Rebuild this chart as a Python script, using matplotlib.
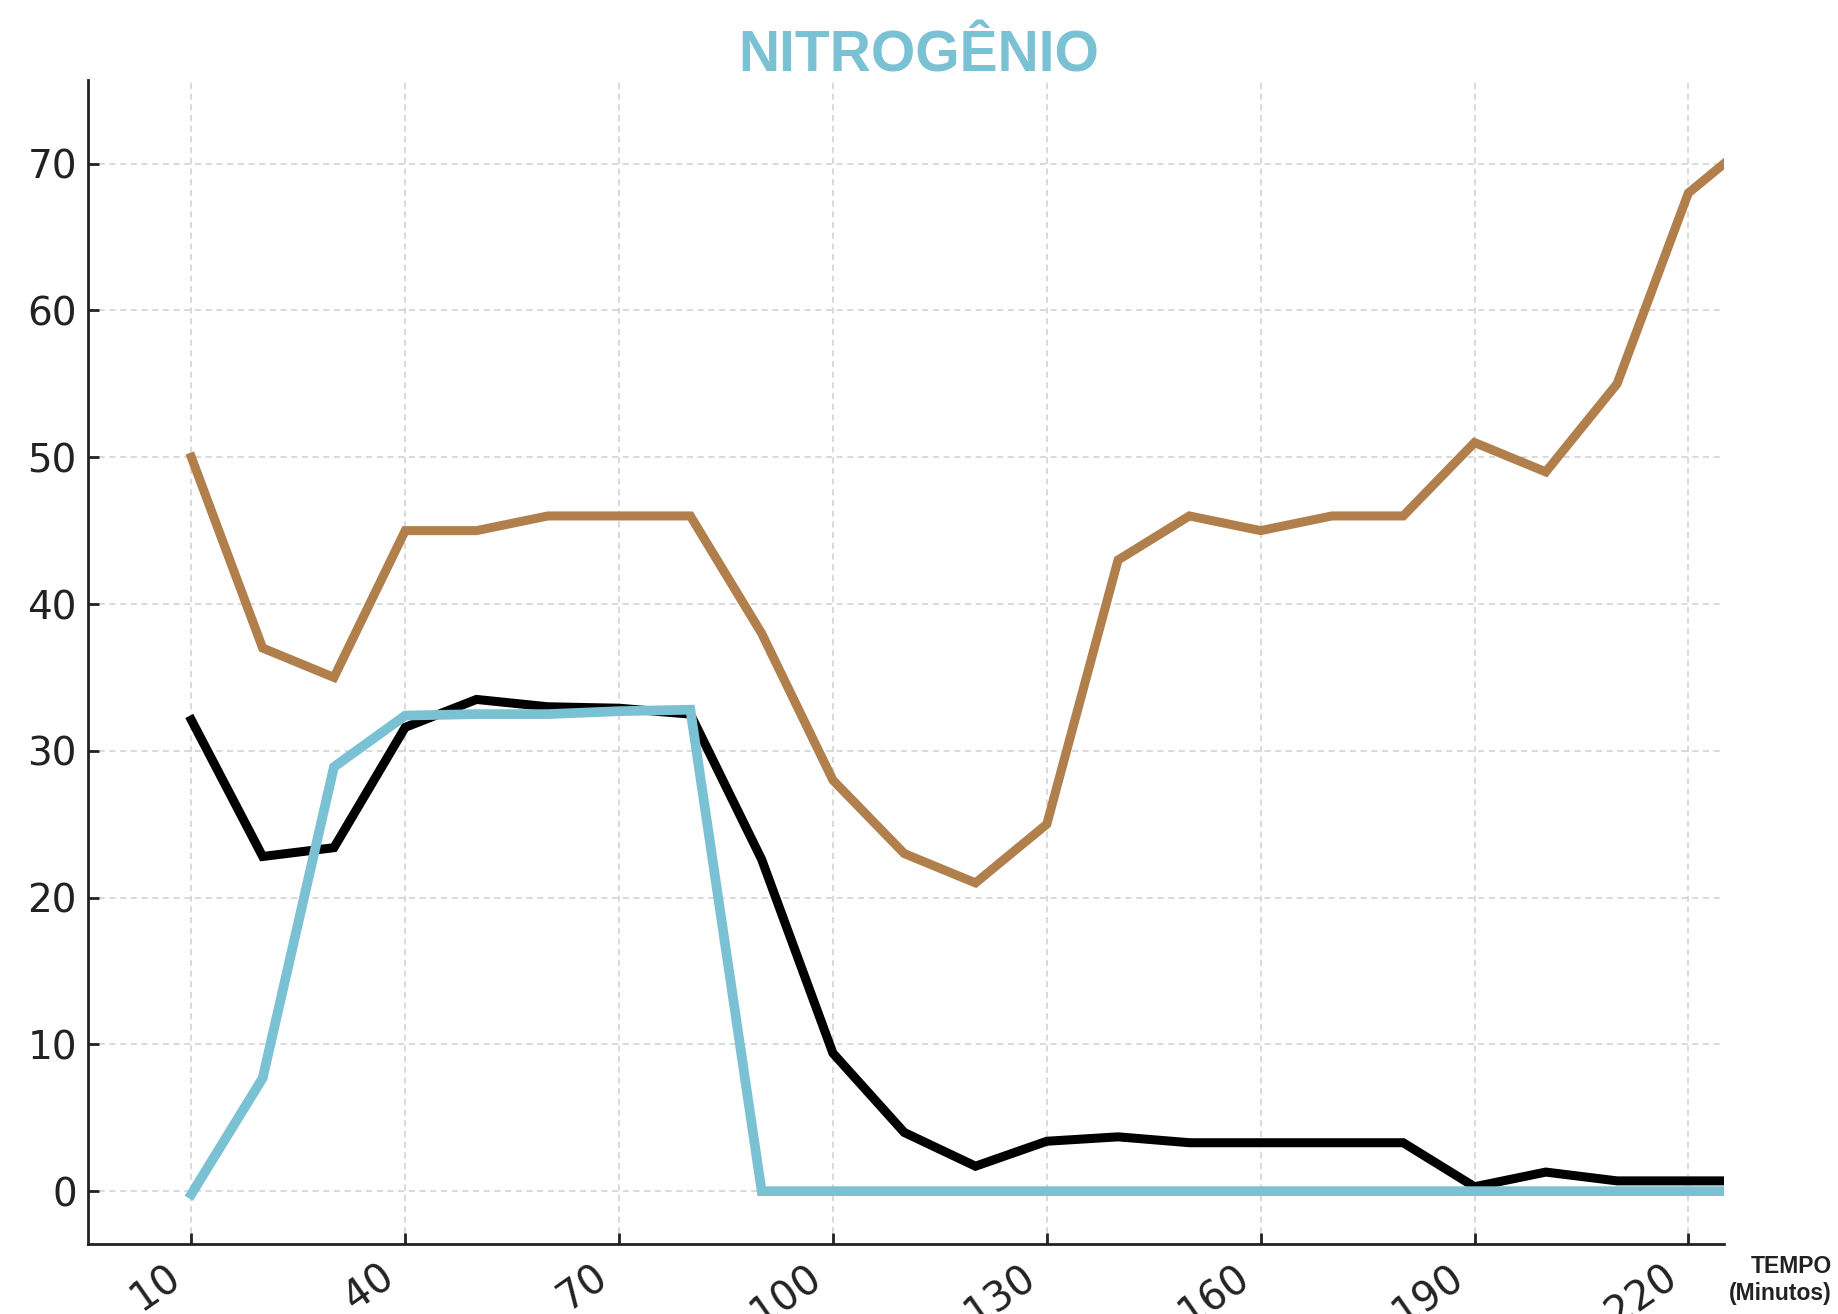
import matplotlib
matplotlib.use("Agg")
import matplotlib.pyplot as plt
from matplotlib.transforms import ScaledTranslation

tempo = [10, 20, 30, 40, 50, 60, 70, 80, 90, 100, 110, 120, 130, 140, 150, 160,
         170, 180, 190, 200, 210, 220, 225]
marrom = [50, 37, 35, 45, 45, 46, 46, 46, 38, 28, 23, 21, 25, 43, 46, 45,
          46, 46, 51, 49, 55, 68, 70]
preto = [32.1, 22.8, 23.4, 31.6, 33.5, 33.0, 32.9, 32.5, 22.6, 9.4, 4.0, 1.7, 3.4, 3.7, 3.3, 3.3,
         3.3, 3.3, 0.3, 1.3, 0.7, 0.7, 0.7]
azul = [-0.2, 7.7, 28.9, 32.4, 32.5, 32.5, 32.7, 32.8, 0, 0, 0, 0, 0, 0, 0, 0,
        0, 0, 0, 0, 0, 0, 0]
xticks = [10, 40, 70, 100, 130, 160, 190, 220]
yticks = [0, 10, 20, 30, 40, 50, 60, 70]

fig = plt.figure(figsize=(18.38, 13.14), dpi=100)
ax = fig.add_axes([88/1838, 1 - 1244/1314, (1724-88)/1838, (1244-80)/1314])

ax.plot(tempo, marrom, color="#B07F4B", lw=6.5, solid_joinstyle="miter", zorder=3)
ax.plot(tempo, preto, color="#000000", lw=6.5, solid_joinstyle="miter", zorder=4)
ax.plot(tempo, azul, color="#7BC1D4", lw=7, solid_joinstyle="miter", zorder=5)

ax.set_xlim(-4.5, 225)
ax.set_ylim(-3.6, 75.7)
ax.set_xticks(xticks)
ax.set_yticks(yticks)
ax.grid(True, color="#d0d0d0", linestyle=(0, (4, 3)), lw=1.1)
ax.set_axisbelow(True)
for s in ["top", "right"]:
    ax.spines[s].set_visible(False)
for s in ["left", "bottom"]:
    ax.spines[s].set_linewidth(2)
    ax.spines[s].set_color("#222222")
ax.tick_params(axis="both", labelsize=28, width=2, length=8, colors="#222222", direction="in")
ax.tick_params(axis="y", pad=8)
ax.tick_params(axis="x", pad=21, labelsize=29)
shift = ScaledTranslation(-0.15, 0, fig.dpi_scale_trans)
for t in ax.xaxis.get_major_ticks():
    lbl = t.label1
    lbl.set_rotation(35)
    lbl.set_ha("right")
    lbl.set_va("center")
    lbl.set_rotation_mode("anchor")
    lbl.set_transform(lbl.get_transform() + shift)

fig.text(0.5, 1 - 57/1314, "NITROGÊNIO", ha="center", va="center",
         fontsize=41, fontweight="bold", color="#7BC1D4", family="Liberation Sans")
fig.text(1832/1838, 1 - 1280/1314, "TEMPO\n(Minutos)", ha="right", va="center",
         fontsize=16.5, fontweight="bold", color="#222222", family="Liberation Sans",
         multialignment="right", linespacing=1.25)

fig.savefig("out.png", dpi=100)
